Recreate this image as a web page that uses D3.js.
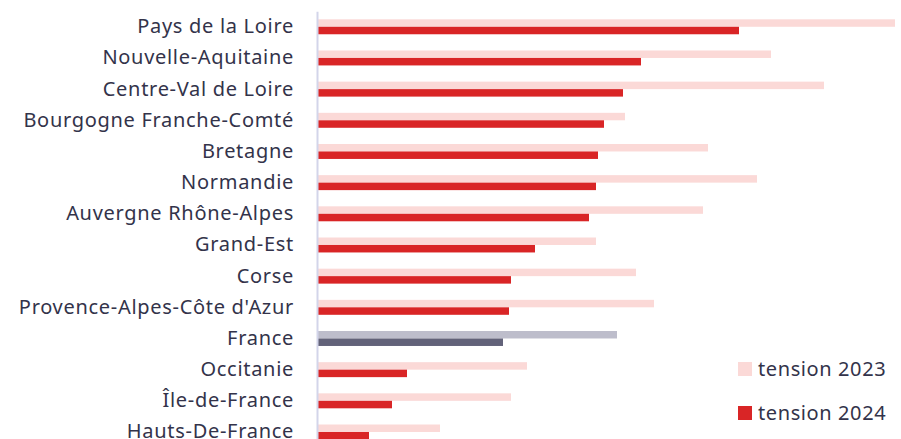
<!DOCTYPE html>
<html>
<head>
<meta charset="utf-8">
<script src="https://cdn.jsdelivr.net/npm/d3@7"></script>
<style>
  body { margin: 0; background: #fff; }
  #chart { width: 901px; height: 439px; overflow: hidden; }
  text { font-family: "Noto Sans", sans-serif; fill: #33334a; }
</style>
</head>
<body>
<div id="chart"></div>
<script>
// data
const regions = ["Pays de la Loire", "Nouvelle-Aquitaine", "Centre-Val de Loire",
  "Bourgogne Franche-Comté", "Bretagne", "Normandie", "Auvergne Rhône-Alpes",
  "Grand-Est", "Corse", "Provence-Alpes-Côte d'Azur", "France", "Occitanie",
  "Île-de-France", "Hauts-De-France"];
const tension2023 = [5.77, 4.53, 5.06, 3.07, 3.90, 4.39, 3.85, 2.78, 3.18, 3.36, 2.99, 2.09, 1.93, 1.22];
const tension2024 = [4.21, 3.23, 3.05, 2.86, 2.80, 2.78, 2.71, 2.17, 1.93, 1.91, 1.85, 0.89, 0.74, 0.51];
const seriesNames = ["tension 2023", "tension 2024"];

const width = 901, height = 439;
const colours = {
  "tension 2023": "#fbd9d7",
  "tension 2024": "#d92526",
  franceLight: "#bdbdcb",
  franceDark: "#626279"
};

const svg = d3.select("#chart")
  .append("svg")
  .attr("width", width)
  .attr("height", height);

const step = 31.17;
const yTop = 11.2;

// scales
const x = d3.scaleLinear()
  .domain([0, 6])
  .range([318, 918]);

const y = d3.scaleBand()
  .domain(regions)
  .range([yTop, yTop + step * regions.length])
  .paddingInner(0.52)
  .paddingOuter(0.26);

const ySub = d3.scaleBand()
  .domain(seriesNames)
  .range([0, y.bandwidth()]);

const rows = regions.map((r, i) => ({
  region: r,
  values: [
    { key: "tension 2023", value: tension2023[i] },
    { key: "tension 2024", value: tension2024[i] }
  ]
}));

// bars
const groups = svg.append("g")
  .selectAll("g")
  .data(rows)
  .enter()
  .append("g")
  .attr("transform", d => `translate(0,${y(d.region)})`);

groups.selectAll("rect")
  .data(d => d.values.map(v => Object.assign({ region: d.region }, v)))
  .enter()
  .append("rect")
  .attr("x", x(0))
  .attr("y", d => ySub(d.key))
  .attr("width", d => x(d.value) - x(0))
  .attr("height", ySub.bandwidth())
  .style("fill", d => {
    if (d.region === "France") {
      return d.key === "tension 2023" ? colours.franceLight : colours.franceDark;
    }
    return colours[d.key];
  });

// axis
const yAxis = d3.axisLeft(y).tickSize(0).tickPadding(23);
const axisG = svg.append("g")
  .attr("transform", `translate(317,0)`)
  .call(yAxis);
axisG.select(".domain")
  .attr("stroke", "#d3d5ea")
  .attr("stroke-width", 2);
axisG.selectAll("text")
  .attr("font-size", "20px")
  .attr("letter-spacing", "0.7px")
  .style("font-family", "'Noto Sans', sans-serif")
  .attr("fill", "#33334a");

// legend
const legend = svg.append("g")
  .selectAll("g")
  .data(seriesNames)
  .enter()
  .append("g")
  .attr("transform", (d, i) => `translate(738,${362 + i * 44})`);

legend.append("rect")
  .attr("width", 14)
  .attr("height", 14)
  .style("fill", d => colours[d]);

legend.append("text")
  .attr("x", 20)
  .attr("y", 14)
  .attr("font-size", "20px")
  .attr("letter-spacing", "0.6px")
  .text(d => d);
</script>
</body>
</html>
